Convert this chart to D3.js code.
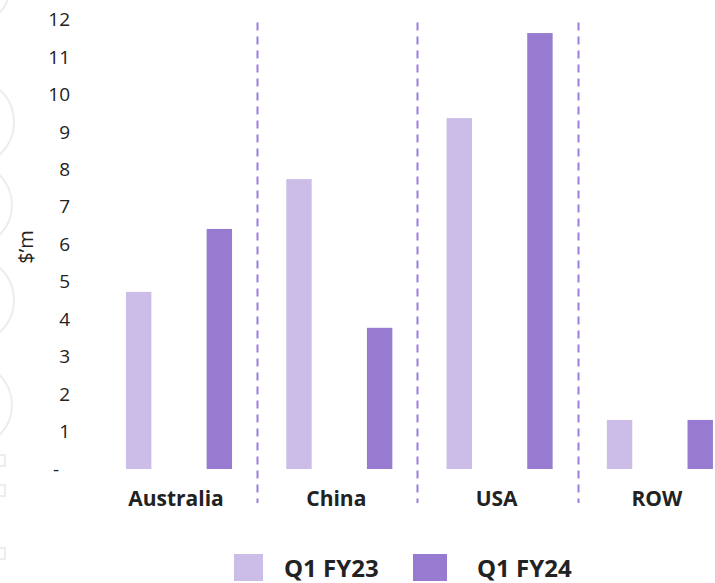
<!DOCTYPE html>
<html>
<head>
<meta charset="utf-8">
<script src="https://cdn.jsdelivr.net/npm/d3@7"></script>
<style>
  html, body { margin: 0; padding: 0; background: #ffffff; }
  svg { display: block; font-family: "Open Sans", "Noto Sans", sans-serif; }
</style>
</head>
<body>
<div id="chart"></div>
<script>
// ---- data ----
const categories = ["Australia", "China", "USA", "ROW"];
const seriesNames = ["Q1 FY23", "Q1 FY24"];
const fy23Values = [4.73, 7.74, 9.37, 1.31];
const fy24Values = [6.41, 3.77, 11.64, 1.31];
const yTickValues = [0, 1, 2, 3, 4, 5, 6, 7, 8, 9, 10, 11, 12];
const yAxisTitle = "$\u2019m";

// ---- layout ----
const W = 715, H = 583;
const colors = { "Q1 FY23": "#cbbde8", "Q1 FY24": "#967bd0" };
const textColor = "#222222";

const svg = d3.select("#chart").append("svg")
  .attr("width", W).attr("height", H);

// faint watermark edge on the left
const wm = svg.append("g").attr("fill", "none").attr("stroke", "#ededed").attr("stroke-width", 2);
[[-30, -14, 40], [-30, 122, 44], [-30, 205, 42], [-30, 300, 44], [-30, 405, 42]].forEach(c => {
  wm.append("circle").attr("cx", c[0]).attr("cy", c[1]).attr("r", c[2]);
});
[[-6, 455, 11, 11], [-6, 485, 11, 11], [-6, 548, 11, 11]].forEach(r => {
  wm.append("rect").attr("x", r[0]).attr("y", r[1]).attr("width", r[2]).attr("height", r[3]);
});

const x = d3.scaleBand()
  .domain(categories)
  .range([98.85, 98.85 + 160.3 * categories.length])
  .paddingInner(0).paddingOuter(0);

const xs = d3.scaleBand()
  .domain(seriesNames)
  .range([0, x.bandwidth()])
  .paddingInner(0.685)
  .paddingOuter(0.336);

const y = d3.scaleLinear().domain([0, 12]).range([469, 19.6]);

// dashed category dividers
svg.append("g")
  .selectAll("line")
  .data(categories.slice(1))
  .join("line")
  .attr("x1", d => Math.round(x(d)) - 1.5)
  .attr("x2", d => Math.round(x(d)) - 1.5)
  .attr("y1", 22.5)
  .attr("y2", 503)
  .attr("stroke", "#9b7dd9")
  .attr("stroke-width", 2)
  .attr("stroke-dasharray", "8,6");

// bars
const rows = categories.map((c, i) => ({ cat: c, vals: [
  { s: seriesNames[0], v: fy23Values[i] },
  { s: seriesNames[1], v: fy24Values[i] }
]}));

const groups = svg.append("g")
  .selectAll("g")
  .data(rows)
  .join("g")
  .attr("transform", d => `translate(${x(d.cat)},0)`);

groups.selectAll("rect")
  .data(d => d.vals)
  .join("rect")
  .attr("x", d => xs(d.s))
  .attr("y", d => y(d.v))
  .attr("width", xs.bandwidth())
  .attr("height", d => y(0) - y(d.v))
  .attr("fill", d => colors[d.s]);

// y axis
const yAxis = d3.axisLeft(y)
  .tickValues(yTickValues)
  .tickSize(0)
  .tickPadding(8)
  .tickFormat(d => d === 0 ? "-" : String(d));

const gy = svg.append("g")
  .attr("transform", "translate(78,0)")
  .call(yAxis);
gy.select(".domain").remove();
gy.selectAll("text")
  .attr("font-family", "'Open Sans', sans-serif")
  .attr("font-size", 19)
  .attr("fill", textColor)
  .attr("dx", d => d === 0 ? -11 : 0);

// y axis title
svg.append("text")
  .attr("transform", "translate(33,247) rotate(-90)")
  .attr("text-anchor", "middle")
  .attr("font-size", 20)
  .attr("fill", textColor)
  .text(yAxisTitle);

// x axis labels
const xAxis = d3.axisBottom(x).tickSize(0).tickPadding(0);
const gx = svg.append("g")
  .attr("transform", "translate(-3,491)")
  .call(xAxis);
gx.select(".domain").remove();
gx.selectAll("text")
  .attr("font-family", "'Open Sans', sans-serif")
  .attr("font-size", 21)
  .attr("font-weight", "bold")
  .attr("fill", textColor)
  .attr("dy", "0.71em");

// legend
const legendItems = [
  { s: seriesNames[0], x: 234, w: 29, tx: 284 },
  { s: seriesNames[1], x: 413, w: 34, tx: 477 }
];
const lg = svg.append("g");
lg.selectAll("rect")
  .data(legendItems)
  .join("rect")
  .attr("x", d => d.x)
  .attr("y", 554)
  .attr("width", d => d.w)
  .attr("height", 27)
  .attr("fill", d => colors[d.s]);
lg.selectAll("text")
  .data(legendItems)
  .join("text")
  .attr("x", d => d.tx)
  .attr("y", 577)
  .attr("font-size", 24)
  .attr("font-weight", "bold")
  .attr("fill", textColor)
  .text(d => d.s);
</script>
</body>
</html>
